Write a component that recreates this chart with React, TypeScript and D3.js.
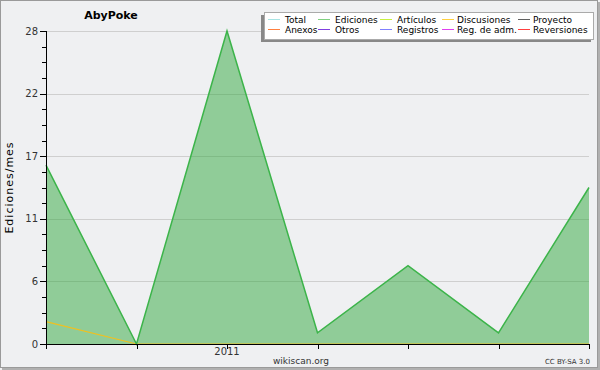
import React from "react";
import * as d3 from "d3";

const months = ["2010-11", "2010-12", "2011-01", "2011-02", "2011-03", "2011-04", "2011-05"];
const monthLabels = ["", "", "2011", "", "", "", ""];
const ediciones = [16, 0, 28, 1, 7, 1, 14];
const discusiones = [2, 0, 0, 0, 0, 0, 0];
const yMax = 28;

const legendRow1 = ["Total", "Ediciones", "Artículos", "Discusiones", "Proyecto"];
const legendRow2 = ["Anexos", "Otros", "Registros", "Reg. de adm.", "Reversiones"];
const legendColors1 = ["#a8e4e4", "#80d080", "#c8f040", "#ffd040", "#606060"];
const legendColors2 = ["#ff8040", "#8040e0", "#8080ff", "#e040f0", "#ff4040"];

const W = 600, H = 370;
const M = { left: 46, right: 589, top: 31, bottom: 344 };
const font = "'DejaVu Sans', sans-serif";

export default function App() {
  const x = d3.scalePoint<string>().domain(months).range([M.left, M.right]);
  const y = d3.scaleLinear().domain([0, yMax]).range([M.bottom, M.top]);
  const major = d3.range(0, 6).map((i) => (yMax * i) / 5);
  const minor = d3.range(0, 21).filter((i) => i % 4 !== 0).map((i) => (yMax * i) / 20);

  const area = d3.area<number>().x((_, i) => x(months[i])!).y0(y(0)).y1((d) => y(d));
  const line = d3.line<number>().x((_, i) => x(months[i])!).y((d) => y(d));

  const colX = [268, 318, 380, 442, 518];
  const textX = [285, 335, 397, 457, 533];

  return (
    <svg width={W} height={H} style={{ position: "fixed", left: 0, top: 0 }} fontFamily={font}>
      <rect x={0} y={0} width={W} height={H} fill="#f0f0f2" />
      <rect x={0.5} y={0.5} width={597} height={367} fill="#eff0f2" stroke="#9a9a9a" />
      <rect x={598} y={2} width={2} height={368} fill="#b0b0b0" />
      <rect x={2} y={368} width={598} height={2} fill="#b0b0b0" />

      <text x={111} y={19} textAnchor="middle" fontSize={11} fontWeight="bold" fill="#000">AbyPoke</text>

      {major.slice(1).map((v) => (
        <line key={v} x1={M.left} x2={M.right} y1={Math.round(y(v)) + 0.5} y2={Math.round(y(v)) + 0.5} stroke="#cfcfcf" />
      ))}

      <path d={area(ediciones)!} fill="#31a83e" fillOpacity={0.5} />
      <path d={line(discusiones)!} fill="none" stroke="#f0c020" strokeWidth={1.2} />
      <path d={line(ediciones)!} fill="none" stroke="#3cb44a" strokeWidth={1.5} />

      <line x1={M.left + 0.5} x2={M.left + 0.5} y1={M.top} y2={M.bottom} stroke="#000" />
      <line x1={M.left} x2={M.right + 1} y1={M.bottom + 0.5} y2={M.bottom + 0.5} stroke="#000" />
      {major.map((v) => (
        <g key={v}>
          <line x1={M.left - 6} x2={M.left} y1={Math.round(y(v)) + 0.5} y2={Math.round(y(v)) + 0.5} stroke="#000" />
          <text x={M.left - 8} y={y(v) + 3.5} textAnchor="end" fontSize={10} fill="#333">{Math.round(v)}</text>
        </g>
      ))}
      {minor.map((v) => (
        <line key={v} x1={M.left - 4} x2={M.left} y1={Math.round(y(v)) + 0.5} y2={Math.round(y(v)) + 0.5} stroke="#000" />
      ))}
      {months.map((m, i) => (
        <g key={m}>
          <line x1={Math.round(x(m)!) + 0.5} x2={Math.round(x(m)!) + 0.5} y1={M.bottom} y2={M.bottom + 5} stroke="#000" />
          {monthLabels[i] && (
            <text x={x(m)!} y={355} textAnchor="middle" fontSize={10} fill="#333">{monthLabels[i]}</text>
          )}
        </g>
      ))}

      <text transform={`translate(13,${(M.top + M.bottom) / 2}) rotate(-90)`} textAnchor="middle" fontSize={11} letterSpacing={1} fill="#000">Ediciones/mes</text>
      <text x={301} y={364} textAnchor="middle" fontSize={9} fill="#333">wikiscan.org</text>
      <text x={590} y={364} textAnchor="end" fontSize={7} fill="#333">CC BY-SA 3.0</text>

      <rect x={261} y={15} width={330} height={27} fill="#888" />
      <rect x={264.5} y={12.5} width={329} height={27} fill="#fff" stroke="#aaa" />
      {legendRow1.map((t, i) => (
        <g key={t}>
          <line x1={colX[i]} x2={colX[i] + 12} y1={19.5} y2={19.5} stroke={legendColors1[i]} />
          <text x={textX[i]} y={23} fontSize={9} fill="#000">{t}</text>
        </g>
      ))}
      {legendRow2.map((t, i) => (
        <g key={t}>
          <line x1={colX[i]} x2={colX[i] + 12} y1={29.5} y2={29.5} stroke={legendColors2[i]} />
          <text x={textX[i]} y={33} fontSize={9} fill="#000">{t}</text>
        </g>
      ))}
    </svg>
  );
}
